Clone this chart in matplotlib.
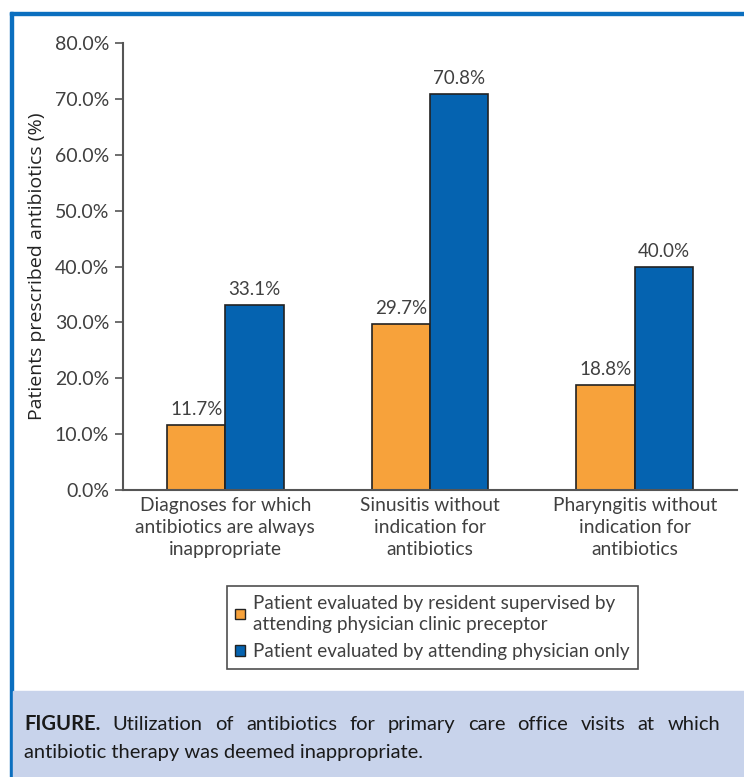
import numpy as np
import matplotlib.pyplot as plt
from matplotlib.patches import Rectangle

categories = ["Diagnoses for which\nantibiotics are always\ninappropriate",
              "Sinusitis without\nindication for\nantibiotics",
              "Pharyngitis without\nindication for\nantibiotics"]
resident = [11.7, 29.7, 18.8]
attending = [33.1, 70.8, 40.0]
series_names = ["Patient evaluated by resident supervised by\nattending physician clinic preceptor",
                "Patient evaluated by attending physician only"]
yticks = [0, 10, 20, 30, 40, 50, 60, 70, 80]

orange = "#F7A23B"
blue = "#0563B0"
txt = "#404040"
W, H = 744, 777

plt.rcParams['font.family'] = ['Lato', 'DejaVu Sans']
fig = plt.figure(figsize=(W / 100, H / 100), dpi=100)

# frame + caption background
fig.patches.append(Rectangle((10 / W, 0), 3 / W, (H - 12) / H, transform=fig.transFigure,
                             color="#0B6FBF", zorder=0))
fig.patches.append(Rectangle((10 / W, (H - 15) / H), 1 - 10 / W, 3 / H, transform=fig.transFigure,
                             color="#0B6FBF", zorder=0))
fig.patches.append(Rectangle((13 / W, 0), 1, (H - 691) / H, transform=fig.transFigure,
                             color="#C8D3EB", zorder=0))

ax = fig.add_axes([123 / W, (H - 490) / H, (737 - 123) / W, (490 - 43) / H])
x = np.arange(len(categories))
w = 0.285
b1 = ax.bar(x - w / 2, resident, w, color=orange, edgecolor="#222222", linewidth=1.2)
b2 = ax.bar(x + w / 2, attending, w, color=blue, edgecolor="#222222", linewidth=1.2)
for bars in (b1, b2):
    ax.bar_label(bars, labels=[f"{v:.1f}%" for v in bars.datavalues], padding=5,
                 fontsize=13.5, color=txt)

ax.set_xlim(-0.5, 2.5)
ax.set_ylim(0, 80)
ax.set_yticks(yticks)
ax.set_yticklabels([f"{v:.1f}%" for v in yticks], fontsize=14, color=txt)
ax.set_xticks(x)
ax.set_xticklabels(categories, fontsize=13.8, color=txt, linespacing=1.35)
ax.tick_params(axis='x', length=0, pad=5)
ax.tick_params(axis='y', length=6, width=1.2, color="#555555", pad=4)
for s in ("top", "right"):
    ax.spines[s].set_visible(False)
for s in ("left", "bottom"):
    ax.spines[s].set_color("#555555")
    ax.spines[s].set_linewidth(1.5)
ax.set_ylabel("Patients prescribed antibiotics (%)", fontsize=14, color="#222222",
              family=['Open Sans', 'DejaVu Sans'], labelpad=6)

handles = [Rectangle((0, 0), 1, 1, facecolor=orange, edgecolor="#222222", linewidth=1),
           Rectangle((0, 0), 1, 1, facecolor=blue, edgecolor="#222222", linewidth=1)]
leg = fig.legend(handles, series_names, loc="center", bbox_to_anchor=(432.5 / W, 1 - 627.5 / H),
                 fontsize=13.6, frameon=True, fancybox=False, edgecolor="#222222",
                 handlelength=0.5, handleheight=0.5, handletextpad=0.45,
                 borderpad=0.45, labelspacing=0.55, borderaxespad=0)
leg.get_frame().set_linewidth(1.2)
for t in leg.get_texts():
    t.set_color(txt)
    t.set_linespacing(1.3)

# caption, first line justified
fig.canvas.draw()
r = fig.canvas.get_renderer()
words = [("FIGURE.", "bold")] + [(wd, "normal") for wd in
         "Utilization of antibiotics for primary care office visits at which".split()]
tobjs = [fig.text(0, 1 - 730 / H, wd, fontsize=14.5, weight=wt, color="#1a1a1a", va="baseline")
         for wd, wt in words]
widths = [t.get_window_extent(r).width for t in tobjs]
x0, x1 = 24, 720
gap = (x1 - x0 - sum(widths)) / (len(widths) - 1)
pos = x0
for t, wdt in zip(tobjs, widths):
    t.set_x(pos / W)
    pos += wdt + gap
fig.text(x0 / W, 1 - 758 / H, "antibiotic therapy was deemed inappropriate.", fontsize=14.5,
         color="#1a1a1a", va="baseline")

fig.savefig("out.png", dpi=100)
